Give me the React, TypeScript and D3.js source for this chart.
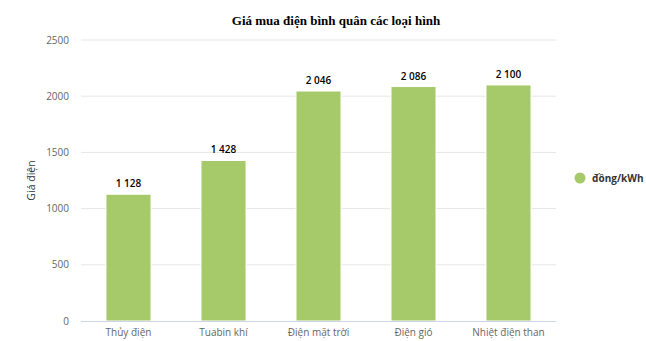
import React from "react";
import * as d3 from "d3";

const title = "Giá mua điện bình quân các loại hình";
const categories = ["Thủy điện", "Tuabin khí", "Điện mặt trời", "Điện gió", "Nhiệt điện than"];
const values = [1128, 1428, 2046, 2086, 2100];
const yTicks = [0, 500, 1000, 1500, 2000, 2500];
const yTitle = "Giá điện";
const seriesName = "đồng/kWh";

const W = 646;
const H = 341;
const margin = { left: 81, right: 90, top: 40, bottom: 20 };
const font = "'Open Sans', 'DejaVu Sans', sans-serif";

export default function App() {
  const x = d3
    .scaleBand<string>()
    .domain(categories)
    .range([margin.left, W - margin.right])
    .paddingInner(0.526)
    .paddingOuter(0.263);
  const y = d3.scaleLinear().domain([0, 2500]).range([H - margin.bottom, margin.top]);
  const fmt = (v: number) => d3.format(",")(v).replace(/,/g, " ");
  const color = "#a6c96a";

  return (
    <svg width={W} height={H} style={{ position: "absolute", left: 0, top: 0, background: "#fff" }}>
      <text x={336} y={25} textAnchor="middle" fontFamily="'Liberation Serif', serif" fontWeight="bold" fontSize={13} fill="#000">
        {title}
      </text>
      {yTicks.map((t) => (
        <g key={t}>
          {t !== 0 && (
            <line x1={margin.left} x2={W - margin.right} y1={y(t)} y2={y(t)} stroke="#e6e6e6" strokeWidth={1} />
          )}
          <text x={69} y={y(t) + 3.5} textAnchor="end" fontFamily={font} fontSize={10} fill="#666">
            {t}
          </text>
        </g>
      ))}
      <text
        transform={`translate(35, ${(margin.top + H - margin.bottom) / 2}) rotate(-90)`}
        textAnchor="middle"
        fontFamily={font}
        fontSize={10.5}
        fill="#333"
      >
        {yTitle}
      </text>
      {categories.map((c, i) => (
        <g key={c}>
          <rect
            x={x(c)!}
            y={y(values[i])}
            width={x.bandwidth()}
            height={y(0) - y(values[i])}
            fill={color}
            stroke="#fff"
            strokeWidth={1}
          />
          <text
            x={x(c)! + x.bandwidth() / 2}
            y={y(values[i]) - 7}
            textAnchor="middle"
            fontFamily={font}
            fontWeight={600}
            fontSize={10}
            fill="#000"
          >
            {fmt(values[i])}
          </text>
          <text x={x(c)! + x.bandwidth() / 2} y={H - 5} textAnchor="middle" fontFamily={font} fontSize={10} fill="#666">
            {c}
          </text>
        </g>
      ))}
      <line x1={margin.left} x2={W - margin.right} y1={y(0) + 0.5} y2={y(0) + 0.5} stroke="#ccd6eb" strokeWidth={1} />
      <circle cx={580} cy={178} r={5.5} fill={color} />
      <text x={592} y={181.5} fontFamily={font} fontWeight="bold" fontSize={10} fill="#333">
        {seriesName}
      </text>
    </svg>
  );
}
